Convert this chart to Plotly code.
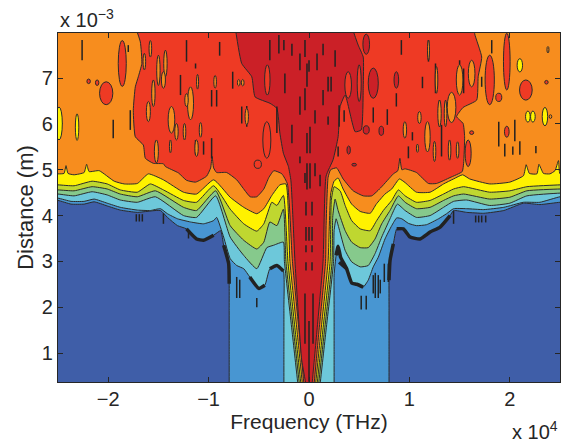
import plotly.graph_objects as go

# Frequency in units of 1e4 THz, distance in units of 1e-3 m.
b1_f = [-2.6,-2.5,-2.37,-2.24,-2.14,-2.01,-1.88,-1.71,-1.48,-1.41,-1.31,-1.22,-1.12,-1.05,-.95,-.88,-.85,-.80,-.795,-.795,-.795,-.795,-.795,-.7,
        .7,.797,.797,.797,.797,.797,.807,.84,.874,.94,1.007,1.106,1.206,1.306,1.405,1.44,1.57,1.74,1.94,2.136,2.30,2.50,2.6]
b1_d = [4.33,4.33,4.25,4.25,4.30,4.21,4.12,4.07,4.11,3.96,3.78,3.71,3.49,3.46,3.57,3.67,3.35,2.95,2.51,2.0,1.0,.0,-.5,-.5,
        -.5,-.5,.0,1.0,2.0,2.59,3.02,3.38,3.71,3.71,3.53,3.49,3.64,3.75,4.0,4.11,4.07,4.05,4.11,4.27,4.24,4.29,4.29]
b2_f = [-2.6,-2.5,-2.37,-2.24,-2.14,-2.01,-1.88,-1.71,-1.58,-1.48,-1.41,-1.31,-1.18,-1.05,-.95,-.92,-.85,-.785,-.72,-.65,-.59,-.50,-.44,-.39,-.32,-.255,-.25,-.25,-.25,-.25,-.2,
        .2,.25,.25,.25,.25,.25,.27,.29,.315,.375,.425,.475,.54,.59,.64,.69,.757,.824,.874,.924,.99,1.07,1.17,1.29,1.37,1.44,1.57,1.74,1.94,2.136,2.30,2.50,2.6]
b2_d = [4.38,4.38,4.31,4.31,4.36,4.27,4.18,4.12,4.11,4.15,4.04,3.93,3.86,3.82,3.89,3.96,3.53,3.06,2.91,2.84,2.66,2.41,2.48,2.84,2.91,2.79,2.0,1.0,.0,-.5,-.5,
        -.5,-.5,.0,1.0,2.0,2.7,3.13,3.33,3.09,2.84,2.53,2.50,2.44,2.59,2.88,3.09,3.49,3.78,3.95,3.93,3.83,3.78,3.80,3.93,4.04,4.15,4.15,4.13,4.18,4.29,4.29,4.41,4.41]
b3_f = [-2.6,-2.5,-2.34,-2.16,-2.01,-1.88,-1.71,-1.53,-1.25,-1.12,-.93,-.785,-.65,-.52,-.42,-.355,-.255,-.245,-.17,-.11,-.085,
        .085,.11,.17,.245,.25,.27,.30,.36,.425,.51,.59,.658,.724,.807,.88,.957,1.07,1.206,1.34,1.44,1.57,1.80,2.0,2.17,2.50,2.6]
b3_d = [4.47,4.47,4.43,4.52,4.45,4.34,4.29,4.41,4.0,3.96,4.43,3.53,3.13,2.84,3.30,3.35,3.42,3.0,1.5,.3,-.3,
        -.3,.3,1.5,3.0,3.67,3.93,3.71,3.24,2.99,2.88,2.91,3.17,3.53,3.93,4.25,4.11,3.96,4.0,4.18,4.31,4.34,4.22,4.27,4.43,4.49,4.49]
b4_f = [-2.6,-2.5,-2.34,-2.16,-2.01,-1.88,-1.71,-1.53,-1.25,-1.12,-.93,-.785,-.65,-.52,-.45,-.39,-.32,-.255,-.23,-.155,-.095,-.07,
        .07,.095,.155,.23,.236,.26,.29,.36,.425,.51,.59,.658,.724,.807,.89,.957,1.07,1.206,1.34,1.44,1.54,1.80,2.0,2.17,2.50,2.6]
b4_d = [4.56,4.56,4.54,4.63,4.58,4.47,4.41,4.54,4.18,4.11,4.54,3.78,3.46,3.27,3.42,3.86,3.78,4.14,3.0,1.5,.3,-.3,
        -.3,.3,1.5,3.0,3.96,4.36,4.11,3.67,3.42,3.30,3.30,3.49,3.82,4.11,4.43,4.29,4.15,4.18,4.33,4.43,4.47,4.36,4.40,4.54,4.58,4.58]
b5_f = [-2.6,-2.5,-2.34,-2.16,-2.01,-1.88,-1.71,-1.58,-1.45,-1.25,-1.12,-.95,-.785,-.65,-.52,-.45,-.37,-.32,-.255,-.21,-.138,-.08,-.055,
        .055,.08,.138,.21,.222,.25,.31,.36,.425,.51,.61,.674,.74,.824,.89,.957,1.07,1.206,1.34,1.44,1.54,1.80,2.0,2.17,2.50,2.6]
b5_d = [4.67,4.67,4.65,4.75,4.69,4.56,4.51,4.69,4.56,4.33,4.29,4.65,4.14,3.82,3.66,3.82,4.29,4.22,4.44,3.0,1.5,.3,-.3,
        -.3,.3,1.5,3.0,4.33,4.63,4.54,4.22,3.89,3.71,3.67,3.89,4.11,4.33,4.56,4.43,4.29,4.33,4.47,4.58,4.63,4.51,4.54,4.63,4.67,4.67]
b6_f = [-2.6,-2.5,-2.44,-2.42,-2.40,-2.34,-2.24,-2.215,-2.19,-2.09,-1.94,-1.84,-1.71,-1.60,-1.45,-1.25,-1.12,-.95,-.785,-.65,-.52,-.45,-.37,-.29,-.23,-.19,-.12,-.065,-.04,
        .04,.065,.12,.19,.216,.25,.29,.34,.425,.51,.61,.67,.757,.824,.90,.957,1.07,1.206,1.34,1.44,1.53,1.60,1.80,2.0,2.136,2.163,2.195,2.27,2.29,2.335,2.40,2.45,2.485,2.50,2.6]
b6_d = [4.91,4.91,4.92,5.09,4.92,4.89,4.94,5.12,4.96,4.98,4.75,4.69,4.70,4.91,4.78,4.51,4.47,4.78,4.40,4.18,4.04,4.15,4.44,4.67,4.69,3.0,1.5,.3,-.3,
        -.3,.3,1.5,3.0,4.47,4.75,4.82,4.58,4.25,4.09,4.05,4.25,4.47,4.58,4.80,4.72,4.51,4.51,4.69,4.80,4.89,4.80,4.69,4.73,4.87,5.11,4.92,4.91,5.12,4.92,4.91,4.98,5.2,4.91,4.91]
b7_f = [-1.73,-1.68,-1.665,-1.70,-1.73,-1.75,-1.73,-1.65,-1.63,-1.55,-1.45,-1.43,-1.30,-1.22,-1.13,-1.02,-.98,-.965,-.95,-.92,-.82,-.72,-.586,-.52,-.45,-.40,-.35,-.27,-.215,-.165,-.10,-.05,-.025,
        .025,.05,.10,.165,.17,.19,.215,.275,.34,.44,.54,.625,.72,.84,.885,.905,.925,.957,1.07,1.19,1.27,1.405,1.526,1.54,1.55,1.535,1.47,1.535,1.67,1.685,1.72,1.65,1.65]
b7_d = [8.12,7.79,7.32,7.03,6.81,6.30,5.72,5.54,5.25,5.14,5.13,5.07,4.93,4.77,4.73,4.86,5.04,5.29,5.04,4.94,4.94,4.78,4.41,4.41,4.58,4.83,4.98,4.91,4.69,3.0,1.5,.3,-.3,
        -.3,.3,1.5,3.0,3.75,4.83,5.0,5.04,4.8,4.54,4.43,4.43,4.62,4.91,4.98,5.25,5.0,5.02,4.94,4.70,4.70,4.83,4.96,5.14,5.72,6.01,6.16,6.36,6.52,7.03,7.46,7.97,8.12]
b8_f = [-.736,-.67,-.57,-.537,-.388,-.32,-.29,-.255,-.205,-.18,-.156,-.14,-.073,-.03,-.01,
        .01,.03,.08,.14,.17,.24,.29,.31,.36,.46,.52,.54,.54,.49,.44,.44]
b8_d = [8.12,7.32,7.03,6.59,6.45,6.34,5.8,5.36,5.07,4.76,3.75,3.0,.85,.3,-.3,
        -.3,.3,1.5,3.0,4.86,5.22,5.72,6.38,6.63,5.83,5.87,6.81,7.46,7.72,8.04,8.12]

band_colors = ["#4896D2", "#6DC8DA", "#86C98C", "#BFD730", "#FFF200", "#F78D1E", "#EE3A24", "#CB2027"]
base_color = "#3F5EA8"
edge_color = "#2B2B2B"

# Closed contour islands: centre frequency, centre distance, half-extents.
isle_f = [-1.64,-1.58,-1.50,-1.43,-1.45,-1.55,-1.18,-1.22,-1.11,-.935,-.66,-.70,-.62,-1.60,-1.52,-1.37,-1.32,-1.24,-1.08,-1.12,-1.38,
          .955,1.18,1.25,1.40,1.48,1.08,1.27,1.19,1.10,1.30,1.36,1.42,1.50,1.62,
          -.415,-.42,-.51,.39,.50,
          .57,.72,.395,.45,.57,.87,.64,
          1.585,1.80,1.97,1.89,1.97,2.16,2.365,1.62,-2.195,-2.11,-2.02,-1.86,
          2.10,2.18,2.23,2.35,-2.49,-2.31,2.405,2.38]
isle_d = [7.36,7.64,7.17,7.32,6.96,6.67,6.45,6.52,6.92,6.92,6.90,6.90,6.16,6.27,5.40,6.09,5.83,5.83,5.87,5.47,5.51,
          5.87,5.72,5.40,5.43,5.43,5.47,6.96,7.61,6.14,6.23,6.23,6.36,6.96,7.10,
          6.96,5.65,5.12,6.85,6.89,
          5.87,5.85,5.43,5.11,7.74,6.96,6.89,
          5.36,6.96,5.83,6.58,7.36,6.74,6.91,5.81,6.93,6.90,6.67,7.32,
          7.28,6.16,6.16,6.16,6.01,5.93,6.16,7.62]
isle_w = [.013,.013,.017,.017,.02,.017,.03,.017,.01,.013,.013,.013,.017,.02,.02,.033,.017,.013,.013,.017,.01,
          .017,.027,.013,.013,.013,.01,.013,.01,.017,.017,.013,.043,.033,.033,
          .027,.04,.036,.033,.02,
          .03,.023,.017,.023,.033,.023,.05,
          .03,.046,.023,.03,.033,.063,.017,.02,.017,.017,.066,.04,
          .027,.023,.023,.027,.033,.017,.013,.01]
isle_h = [.18,.18,.33,.29,.18,.29,.36,.14,.16,.14,.07,.07,.18,.22,.25,.29,.18,.18,.16,.18,.14,
          .18,.33,.22,.22,.18,.09,.29,.22,.13,.29,.29,.33,.33,.29,
          .33,.40,.09,.29,.40,
          .09,.10,.09,.03,.22,.18,.33,
          .29,.54,.12,.09,.62,.22,.04,.04,.05,.06,.25,.5,
          .145,.12,.12,.20,.36,.29,.04,.07]
isle_fill = ["#F78D1E"]*35 + ["#EE3A24"]*5 + ["#CB2027"]*7 + ["#EE3A24"]*12 + ["#FFF200"]*6 + ["#F78D1E"]*2

# Very small closed contours, seen as short dark strokes.
dash_f = [-2.26,-1.80,-1.95,-1.28,-.97,-.92,-.89,-.76,-1.13,-.67,-.62,-1.78,-.97,-1.05,-1.13,-1.22,-.39,-.30,-.25,-.17,-.09,-.24,-.17,-.09,-.32,-.02,-.02,-.09,
          -.04,0,.08,.14,.19,.22,-.04,.06,.14,.19,.01,-.02,.01,-.04,.06,.11,.29,.30,.35,.26,.92,1.19,1.13,.87,.78,.64,1.03,.99,1.18,1.32,1.26,1.89,2.05,1.95,2.03,2.10,2.26,1.82,1.72,1.50,1.54,1.30,
          -.03,.03,-.03,0,.03,-.03,.03,-.03,.03,-.04,.04,0,
          -1.72,-1.69,-1.66,-1.45,-1.20,-.72,-.69,-.52,.64,.66,.69,.71,.52,.57,1.66,1.69,1.72,1.76,1.44,.75,.79]
dash_top = [7.83,7.72,6.09,7.07,6.74,6.74,7.79,7.14,7.32,6.38,6.39,6.30,5.69,5.62,5.65,7.83,7.83,7.94,7.83,7.75,7.54,7.10,5.98,6.60,6.38,7.32,5.14,5.29,
            7.83,7.39,7.54,7.75,7.03,7.03,6.78,6.30,6.74,6.16,5.94,5.80,5.14,4.93,5.14,4.89,5.51,6.41,6.30,7.61,7.83,7.83,7.03,6.67,6.32,6.36,5.82,5.51,5.98,5.98,7.32,6.05,6.09,5.57,5.51,5.62,5.52,7.83,7.03,7.39,7.21,6.52,
            4.3,4.3,3.75,3.75,3.75,3.35,3.35,2.98,2.98,2.3,2.3,1.7,
            4.03,4.03,4.03,4.05,3.67,2.66,2.60,2.2,2.7,2.75,2.7,2.6,2.25,2.25,4.0,4.0,4.0,4.0,4.1,2.95,2.95]
dash_bot = [7.39,7.57,5.69,6.63,6.38,6.38,7.49,6.77,7.21,6.01,5.94,5.87,5.25,5.33,5.33,7.36,7.39,7.54,7.61,7.49,7.17,6.67,5.58,6.20,5.80,6.81,4.57,5.14,
            7.46,7.14,7.17,7.50,6.71,6.71,6.30,6.01,6.41,5.98,5.36,5.36,4.59,4.71,4.86,4.64,5.29,5.94,6.05,7.25,7.51,7.36,6.78,6.38,5.98,6.03,5.64,5.25,5.41,5.29,6.67,5.51,5.62,5.29,5.33,5.33,5.36,7.54,6.81,6.70,6.67,5.94,
            4.0,4.0,3.45,3.45,3.45,3.2,3.2,2.8,2.8,1.2,1.2,.37,
            3.87,3.87,3.87,3.82,3.5,2.2,2.2,2.0,2.3,2.2,2.2,2.3,1.95,1.95,3.85,3.85,3.85,3.85,3.82,2.55,2.55]

# Regions where many contour lines merge into heavy dark ink.
ink_f = [-1.22,-1.12,-1.05,-.95,None,-.85,-.80,-.795,None,.797,.807,.84,None,.27,.29,.315,.375,.425,.475,.54,None,-.59,-.50,-.44,None,-.39,-.32,-.255,None,.874,.94,1.007,1.106,1.206,1.306,1.405,None,.30,.375]
ink_d = [3.71,3.49,3.46,3.57,None,3.35,2.95,2.51,None,2.59,3.02,3.38,None,3.13,3.33,3.09,2.84,2.53,2.50,2.44,None,2.66,2.41,2.48,None,2.84,2.91,2.79,None,3.71,3.71,3.53,3.49,3.64,3.75,4.0,None,2.98,2.84]

x_ticks = [-2, -1, 0, 1, 2]
x_tick_text = ["\u22122", "\u22121", "0", "1", "2"]
y_ticks = [1, 2, 3, 4, 5, 6, 7]

fig = go.Figure()
paths = [(b1_f, b1_d), (b2_f, b2_d), (b3_f, b3_d), (b4_f, b4_d), (b5_f, b5_d), (b6_f, b6_d), (b7_f, b7_d), (b8_f, b8_d)]
for i, (f, d) in enumerate(paths):
    xs, ys = list(f), list(d)
    if i < 6:
        xs = xs + [2.6, -2.6]
        ys = ys + [9, 9]
    fig.add_trace(go.Scatter(x=xs, y=ys, mode="lines", fill="toself", fillcolor=band_colors[i],
                             line=dict(color=edge_color, width=1, shape="spline", smoothing=0.45),
                             hoverinfo="skip", showlegend=False))

dx, dy = [], []
for f, t, b in zip(dash_f, dash_top, dash_bot):
    dx += [f, f, None]
    dy += [t, b, None]
fig.add_trace(go.Scatter(x=dx, y=dy, mode="lines", line=dict(color="#222222", width=1.5),
                         hoverinfo="skip", showlegend=False))
fig.add_trace(go.Scatter(x=ink_f, y=ink_d, mode="lines", line=dict(color="#222222", width=3.5, shape="spline", smoothing=0.45),
                         hoverinfo="skip", showlegend=False))

shapes = []
for f, d, w, h, c in zip(isle_f, isle_d, isle_w, isle_h, isle_fill):
    shapes.append(dict(type="circle", xref="x", yref="y", x0=f - w, x1=f + w, y0=d - h, y1=d + h,
                       fillcolor=c, line=dict(color=edge_color, width=1), layer="above"))

tick_font = dict(family="Liberation Sans, Arial, sans-serif", size=20, color="#262626")
title_font = dict(family="Liberation Sans, Arial, sans-serif", size=21, color="#262626")
axis = dict(showgrid=False, zeroline=False, showline=True, linecolor="#262626", linewidth=1.2, mirror="allticks",
            ticks="inside", ticklen=5, tickcolor="#262626", tickfont=tick_font)
fig.update_layout(
    width=570, height=442, paper_bgcolor="white", plot_bgcolor=base_color, font=tick_font,
    margin=dict(l=57.5, r=10, t=33, b=60), shapes=shapes, showlegend=False,
    xaxis=dict(axis, range=[-2.5, 2.5], tickvals=x_ticks, ticktext=x_tick_text, ticklabelstandoff=-1,
               title=dict(text="Frequency (THz)", font=title_font, standoff=0)),
    yaxis=dict(axis, range=[0.367, 7.985], tickvals=y_ticks,
               title=dict(text="Distance (m)", font=dict(title_font, size=22), standoff=2)),
    annotations=[
        dict(text="x 10<sup>\u22123</sup>", xref="paper", yref="paper", x=0, y=1, xanchor="left", yanchor="bottom",
             yshift=0, showarrow=False, font=tick_font),
        dict(text="x 10<sup>4</sup>", xref="paper", yref="paper", x=1, y=0, xanchor="right", yanchor="top",
             yshift=-34, showarrow=False, font=tick_font),
    ],
)
fig.write_html("out.html", config={"displayModeBar": False}, post_script="document.body.style.margin='0';")
